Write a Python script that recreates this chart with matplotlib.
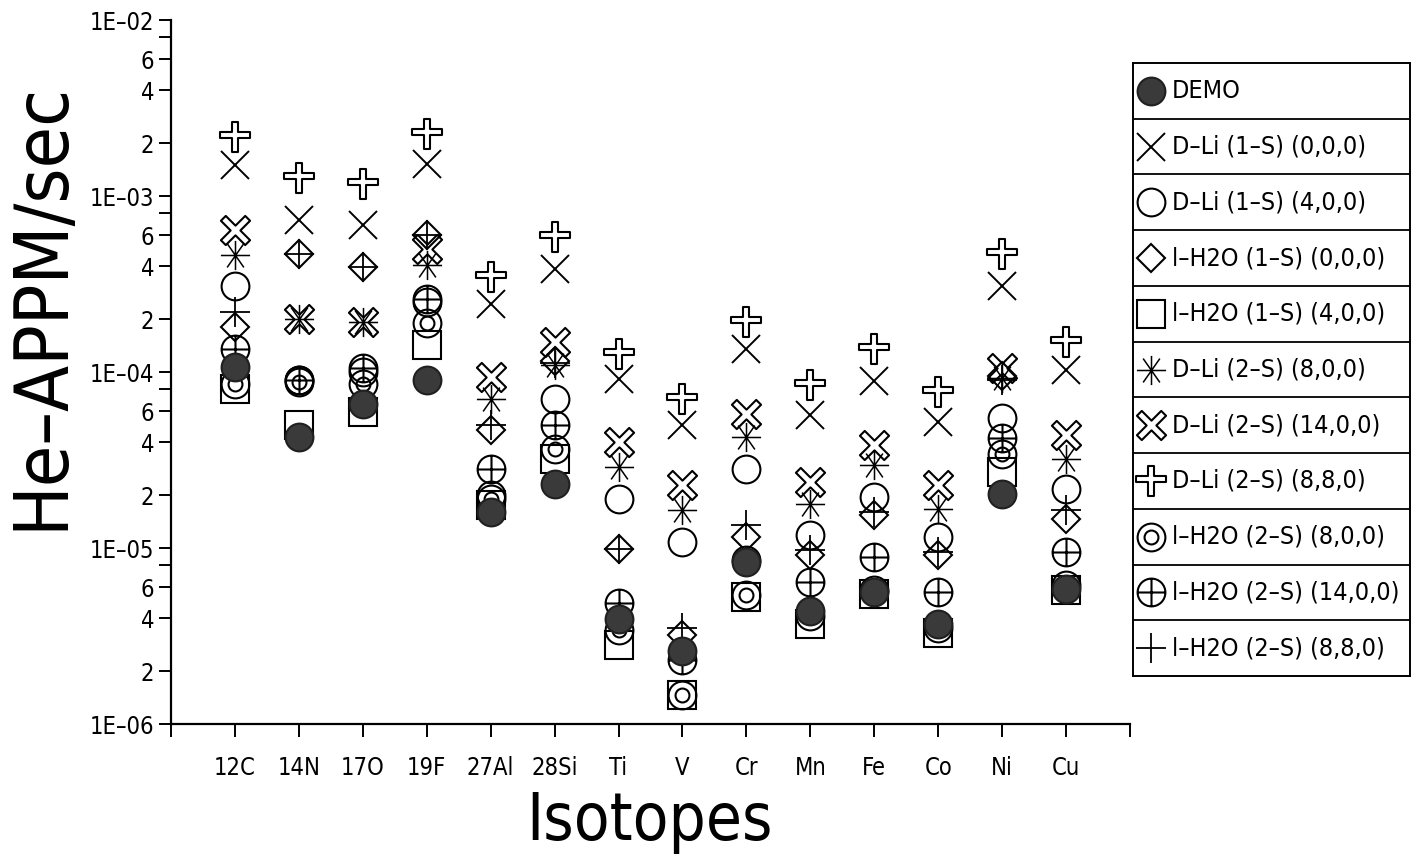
import numpy as np
import matplotlib
matplotlib.use("Agg")
import matplotlib.pyplot as plt
from matplotlib.path import Path
from matplotlib.ticker import FixedLocator, FixedFormatter

plt.rcParams['font.family'] = ['DejaVu Sans']
plt.rcParams['font.stretch'] = 'condensed'

# isotopes on the x axis
categories = ['12C', '14N', '17O', '19F', '27Al', '28Si', 'Ti', 'V', 'Cr',
              'Mn', 'Fe', 'Co', 'Ni', 'Cu']

# He appm/sec
demo = [1.07e-4, 4.3e-5, 6.6e-5, 9.0e-5, 1.6e-5, 2.3e-5, 3.95e-6, 2.6e-6,
        8.3e-6, 4.4e-6, 5.6e-6, 3.7e-6, 2.03e-5, 5.85e-6]
dli_1s_000 = [1.5e-3, 7.3e-4, 6.8e-4, 1.52e-3, 2.43e-4, 3.85e-4, 9.1e-5, 5.0e-5,
              1.35e-4, 5.7e-5, 8.9e-5, 5.2e-5, 3.1e-4, 1.03e-4]
dli_1s_400 = [3.1e-4, 9.0e-5, 1.0e-4, 2.5e-4, 2.0e-5, 7.0e-5, 1.9e-5, 1.08e-5,
              2.8e-5, 1.19e-5, 1.95e-5, 1.15e-5, 5.5e-5, 2.16e-5]
lh2o_1s_000 = [1.8e-4, 4.7e-4, 3.95e-4, 6.0e-4, 4.7e-5, 1.15e-4, 9.9e-6, 3.2e-6,
               1.15e-5, 9.1e-6, 1.54e-5, 9.1e-6, 9.5e-5, 1.46e-5]
lh2o_1s_400 = [8.0e-5, 5.0e-5, 5.9e-5, 1.42e-4, 1.75e-5, 3.2e-5, 2.8e-6, 1.46e-6,
               5.3e-6, 3.7e-6, 5.5e-6, 3.3e-6, 2.7e-5, 5.8e-6]
dli_2s_800 = [4.6e-4, 2.0e-4, 1.92e-4, 4.06e-4, 7.0e-5, 1.1e-4, 2.9e-5, 1.64e-5,
              4.3e-5, 1.78e-5, 2.96e-5, 1.67e-5, 9.3e-5, 3.2e-5]
dli_2s_1400 = [6.4e-4, 2.0e-4, 1.92e-4, 5.0e-4, 9.4e-5, 1.48e-4, 4.0e-5, 2.28e-5,
               5.8e-5, 2.37e-5, 3.85e-5, 2.28e-5, 1.05e-4, 4.4e-5]
dli_2s_880 = [2.16e-3, 1.26e-3, 1.17e-3, 2.25e-3, 3.47e-4, 5.85e-4, 1.26e-4, 7.0e-5,
              1.92e-4, 8.4e-5, 1.35e-4, 7.7e-5, 4.68e-4, 1.48e-4]
lh2o_2s_800 = [8.6e-5, 8.8e-5, 8.5e-5, 1.9e-4, 1.9e-5, 3.65e-5, 3.4e-6, 1.46e-6,
               5.4e-6, 4.1e-6, 5.8e-6, 3.5e-6, 3.4e-5, 6.2e-6]
lh2o_2s_1400 = [1.35e-4, 9.0e-5, 1.05e-4, 2.6e-4, 2.8e-5, 5.0e-5, 4.9e-6, 2.31e-6,
                8.5e-6, 6.4e-6, 8.9e-6, 5.6e-6, 4.2e-5, 9.5e-6]
lh2o_2s_880 = [2.2e-4, 4.7e-4, 3.95e-4, 6.0e-4, 5.0e-5, 1.12e-4, 9.9e-6, 3.5e-6,
               1.35e-5, 9.7e-6, 1.6e-5, 9.5e-6, 9.0e-5, 1.64e-5]

labels = ['DEMO', 'D\u2013Li (1\u2013S) (0,0,0)', 'D\u2013Li (1\u2013S) (4,0,0)',
          'l\u2013H2O (1\u2013S) (0,0,0)', 'l\u2013H2O (1\u2013S) (4,0,0)',
          'D\u2013Li (2\u2013S) (8,0,0)', 'D\u2013Li (2\u2013S) (14,0,0)',
          'D\u2013Li (2\u2013S) (8,8,0)', 'l\u2013H2O (2\u2013S) (8,0,0)',
          'l\u2013H2O (2\u2013S) (14,0,0)', 'l\u2013H2O (2\u2013S) (8,8,0)']


# --- custom marker shapes ---
def outline_plus(w=0.2, yc=0.15):
    v = [(-w, 1), (w, 1), (w, yc + w), (1, yc + w), (1, yc - w), (w, yc - w),
         (w, -1), (-w, -1), (-w, yc - w), (-1, yc - w), (-1, yc + w), (-w, yc + w),
         (-w, 1)]
    return Path(v, closed=True)


def outline_x(w=0.2):
    v = np.array([(-w, 1), (w, 1), (w, w), (1, w), (1, -w), (w, -w),
                  (w, -1), (-w, -1), (-w, -w), (-1, -w), (-1, w), (-w, w),
                  (-w, 1)])
    a = np.deg2rad(45)
    rot = np.array([[np.cos(a), -np.sin(a)], [np.sin(a), np.cos(a)]])
    return Path(v @ rot.T, closed=True)


def star_lines(ang=55):
    a = np.deg2rad(ang)
    c, s = np.cos(a), np.sin(a)
    verts = [(-1, 0), (1, 0), (0, -1), (0, 1), (-c, -s), (c, s), (-c, s), (c, -s)]
    codes = [Path.MOVETO, Path.LINETO] * 4
    return Path(verts, codes)


ring2 = Path.make_compound_path(Path.unit_circle(),
                                Path.circle((0, 0), 0.5))
circ_plus = Path.make_compound_path(
    Path.unit_circle(),
    Path([(-1, 0), (1, 0)], [Path.MOVETO, Path.LINETO]),
    Path([(0, -1), (0, 1)], [Path.MOVETO, Path.LINETO]))

styles = [
    dict(marker='o', ms=20, mfc='#3a3a3a', mec='#202020'),
    dict(marker='x', ms=20, mew=1.4),
    dict(marker='o', ms=20),
    dict(marker='D', ms=14),
    dict(marker='s', ms=20),
    dict(marker=star_lines(), ms=21, mew=1.1),
    dict(marker=outline_x(), ms=21),
    dict(marker=outline_plus(), ms=21),
    dict(marker=ring2, ms=20),
    dict(marker=circ_plus, ms=20),
    dict(marker='+', ms=22, mew=1.3),
]
series = [demo, dli_1s_000, dli_1s_400, lh2o_1s_000, lh2o_1s_400, dli_2s_800,
          dli_2s_1400, dli_2s_880, lh2o_2s_800, lh2o_2s_1400, lh2o_2s_880]

fig = plt.figure(figsize=(14.16, 8.67), dpi=100)
ax = fig.add_axes([171 / 1416, 1 - 724 / 867, (1130 - 171) / 1416, (724 - 20) / 867])

x = np.arange(1, len(categories) + 1)
for i, (vals, st) in enumerate(zip(series, styles)):
    kw = dict(ls='none', color='black', mfc='none', mec='black', mew=1.5)
    kw.update(st)
    ax.plot(x, vals, zorder=5 if i == 0 else 3, **kw)

ax.set_yscale('log')
ax.set_ylim(1e-6, 1e-2)
ax.set_xlim(0, 15)

ax.set_xticks(np.arange(0, 16))
ax.set_xticklabels([''] + categories + [''])
ax.tick_params(axis='x', direction='out', length=9, width=1.4, labelsize=17, pad=14)

majors = [1e-6, 1e-5, 1e-4, 1e-3, 1e-2]
ax.yaxis.set_major_locator(FixedLocator(majors))
ax.yaxis.set_major_formatter(FixedFormatter(['1E\u201306', '1E\u201305', '1E\u201304',
                                             '1E\u201303', '1E\u201302']))
mins, minlab = [], []
for d in majors[:-1]:
    for m in (2, 4, 6, 8):
        mins.append(m * d)
        minlab.append(str(m) if m < 8 else '')
ax.yaxis.set_minor_locator(FixedLocator(mins))
ax.yaxis.set_minor_formatter(FixedFormatter(minlab))
ax.tick_params(axis='y', which='both', direction='out', length=9, width=1.4,
               labelsize=17, pad=3)

for side in ('top', 'right'):
    ax.spines[side].set_visible(False)
for side in ('left', 'bottom'):
    ax.spines[side].set_linewidth(1.6)

fig.text(42 / 1416, 1 - 306 / 867, 'He\u2013APPM/sec', rotation=90,
         ha='center', va='center', fontsize=54)
fig.text(650 / 1416, 1 - 840 / 867, 'Isotopes', ha='center', va='baseline',
         fontsize=47)

# boxed legend
lax = fig.add_axes([1133 / 1416, 1 - 676 / 867, (1410 - 1133) / 1416, (676 - 63) / 867])
lax.set_xlim(0, 1)
lax.set_ylim(len(labels), 0)
lax.set_xticks([])
lax.set_yticks([])
for sp in lax.spines.values():
    sp.set_linewidth(1.4)
for k in range(1, len(labels)):
    lax.axhline(k, color='black', lw=1.3)
for k, (lab, st) in enumerate(zip(labels, styles)):
    kw = dict(ls='none', color='black', mfc='none', mec='black', mew=1.5)
    kw.update(st)
    lax.plot([0.065], [k + 0.5], **kw)
    lax.text(0.14, k + 0.5, lab, va='center', ha='left', fontsize=18)

fig.savefig('out.png', dpi=100)
